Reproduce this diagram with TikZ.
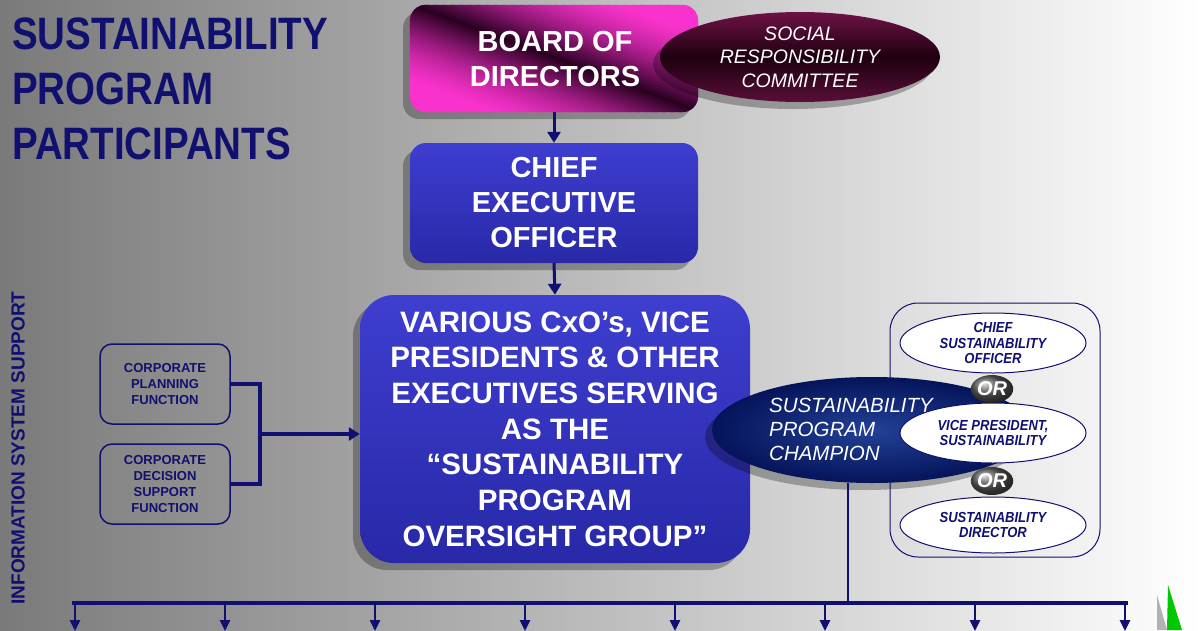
\documentclass[tikz,border=0pt]{standalone}
\usepackage{fontspec}
\setmainfont{Liberation Sans}
\usepackage{graphicx}
\usetikzlibrary{shapes.geometric,arrows.meta,shadows,shadings}
\definecolor{navy}{RGB}{16,16,112}
\definecolor{bgl}{RGB}{122,122,122}
\definecolor{bmag}{RGB}{250,50,205}
\definecolor{bdark}{RGB}{40,0,32}
\definecolor{btop}{RGB}{62,62,208}
\definecolor{bbot}{RGB}{40,40,168}
\definecolor{srA}{RGB}{110,18,70}
\definecolor{srB}{RGB}{30,0,15}
\definecolor{chA}{RGB}{35,65,150}
\definecolor{chB}{RGB}{5,20,90}
\definecolor{grn}{RGB}{0,200,0}
\newcommand{\ttall}[1]{\scalebox{1}[1.18]{#1}}
\newcommand{\stall}[1]{\scalebox{1}[1.12]{#1}}
\begin{document}
\begin{tikzpicture}[x=1pt,y=-1pt,
  conn/.style={draw=navy, line width=3pt},
  thin conn/.style={draw=navy, line width=2pt},
  tip/.style={-{Triangle[width=13pt,length=11pt]}},
  smalltip/.style={-{Triangle[width=10pt,length=11pt]}},
  shad/.style={general shadow={shadow xshift=-7pt, shadow yshift=-7pt, fill=black, opacity=0.28}},
  bigbox/.style={rounded corners=16pt, top color=btop, bottom color=bbot, text=white, align=center, inner sep=0pt, shad},
  bigtext/.style={font=\fontsize{29}{35}\selectfont\bfseries},
  leftbox/.style={draw=navy, line width=1.5pt, rounded corners=12pt, minimum width=130, minimum height=80, align=center, text=navy, font=\fontsize{13}{16}\selectfont\bfseries},
  optell/.style={ellipse, draw=navy, line width=1pt, fill=white, inner sep=0pt, align=center, text=navy, font=\fontsize{13}{15.5}\selectfont\bfseries\itshape},
  orball/.style={ellipse, minimum width=40, minimum height=28, inner sep=0pt, ball color=gray!70!black, text=white, font=\fontsize{20}{20}\selectfont\bfseries\itshape}
]
\useasboundingbox (0,0) rectangle (1200,630);
\shade[left color=bgl, right color=white] (0,0) rectangle (1200,630);

% title
\node[anchor=north west, align=left, text=navy, font=\fontsize{38.5}{55}\selectfont\bfseries, inner sep=0pt] (title) at (12,18)
  {\ttall{SUSTAINABILITY}\\\ttall{PROGRAM}\\\ttall{PARTICIPANTS}};

% vertical label
\node[rotate=90, text=navy, font=\fontsize{19}{20}\selectfont\bfseries] (iss) at (18,448) {INFORMATION SYSTEM SUPPORT};

% board
\node[rounded corners=16pt, fill=bmag, minimum width=288, minimum height=107, shad, inner sep=0pt] (board) at (554,58.5) {};
\begin{scope}
  \clip[rounded corners=16pt] (board.south west) rectangle (board.north east);
  \begin{scope}[shift={(board.center)}, rotate=69.6]
    \foreach \u in {-150,-147,...,150} {
      \pgfmathsetmacro{\d}{\u<0 ? 100*(max(0,1+(\u)/75))^1.5 : 100*(max(0,1-(\u)/75))^1.5}
      \fill[bdark!\d!bmag] (\u-0.5,-300) rectangle (\u+3.5,300);
    }
  \end{scope}
\end{scope}
\node[text=white, align=center, bigtext, inner sep=0pt] (boardt) at (555,59) {BOARD OF\\DIRECTORS};

% social responsibility ellipse
\node[ellipse, minimum width=280, minimum height=90, inner sep=0pt, top color=srA, bottom color=srA!80!black, middle color=srB, shad,
      text=white, align=center, font=\fontsize{19.5}{23.5}\selectfont\itshape] (src) at (800,57)
  {SOCIAL\\RESPONSIBILITY\\COMMITTEE};

% CEO
\node[bigbox, bigtext, minimum width=288, minimum height=120] (ceo) at (554,203)
  {CHIEF\\EXECUTIVE\\OFFICER};

% oversight
\node[bigbox, rounded corners=34pt, minimum width=390, minimum height=268, font=\fontsize{29.5}{35.7}\selectfont\bfseries] (over) at (555,429)
  {VARIOUS CxO’s, VICE\\PRESIDENTS \& OTHER\\EXECUTIVES SERVING\\AS THE\\“SUSTAINABILITY\\PROGRAM\\OVERSIGHT GROUP”};

\draw[conn, tip] (board.south) -- (ceo.north);
\draw[conn, tip] (ceo.south) -- (over.north);

% left boxes
\node[leftbox] (plan) at (165,384) {CORPORATE\\PLANNING\\FUNCTION};
\node[leftbox] (dec) at (165,484) {CORPORATE\\DECISION\\SUPPORT\\FUNCTION};
\coordinate (jx) at (260,434);
\draw[conn, line width=4pt] (plan.east) -| (jx);
\draw[conn, line width=4pt] (dec.east) -| (jx);
\draw[conn, line width=4pt, tip] (jx) -- (jx -| over.west);

% right panel
\node[draw=navy, line width=1pt, rounded corners=28pt, minimum width=210, minimum height=254] (panel) at (995,430) {};

% bottom bar
\coordinate (jn) at (848,603);
\foreach \i/\x in {1/75,2/225,3/375,4/525,5/675,6/825,7/975,8/1125} {
  \coordinate (t\i) at (\x,603);
  \coordinate (e\i) at (\x,631);
}
\draw[conn, line width=4pt] ([xshift=-3pt]t1) -- ([xshift=3pt]t8);
\foreach \i in {1,...,8} { \draw[thin conn, line width=2.5pt, smalltip] (t\i) -- (e\i); }

% champion
\node[ellipse, minimum width=320, minimum height=106, inner sep=0pt, inner color=chA, outer color=chB, shad] (champ) at (872,430) {};
\draw[thin conn] (champ.south -| jn) -- (jn);
\node[anchor=west, align=left, text=white, font=\fontsize{20.5}{24}\selectfont\itshape, inner sep=0pt] (champt) at (769,429)
  {SUSTAINABILITY\\PROGRAM\\CHAMPION};

% option ellipses
\node[optell, minimum width=186, minimum height=60] (cso) at (993,343) {\stall{CHIEF}\\\stall{SUSTAINABILITY}\\\stall{OFFICER}};
\node[optell, minimum width=186, minimum height=60] (vp) at (993,433) {\stall{VICE PRESIDENT,}\\\stall{SUSTAINABILITY}};
\node[optell, minimum width=186, minimum height=56] (dir) at (993,525) {\stall{SUSTAINABILITY}\\\stall{DIRECTOR}};
\node[orball] (or1) at (992,389) {OR};
\node[orball] (or2) at (992,481) {OR};

% corner marks
\fill[gray!60] (1157,595) -- (1167,630) -- (1157,630) -- cycle;
\fill[grn] (1168,585) -- (1182,630) -- (1167,630) -- cycle;
\end{tikzpicture}
\end{document}
